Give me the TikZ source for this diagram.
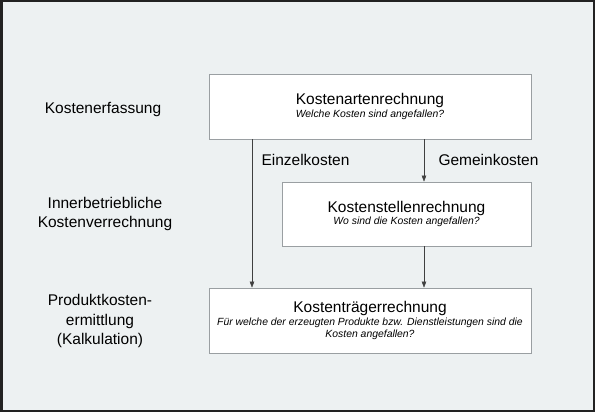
\documentclass[tikz,border=0pt]{standalone}
\usepackage{fontspec}
\setmainfont{Liberation Sans}
\usetikzlibrary{arrows.meta}
\definecolor{hintergrund}{HTML}{EDF1F2}
\definecolor{rahmen}{HTML}{222222}
\definecolor{boxrand}{HTML}{9A9FA2}
\newcommand{\titelfont}{\fontsize{15.5}{15.5}\selectfont}
\newcommand{\fragefont}{\fontsize{10.4}{12.5}\selectfont\itshape}
\tikzset{
  stufe/.style={draw=boxrand, fill=white, line width=0.8pt, align=center, inner sep=0pt},
  ebene/.style={align=center, font=\fontsize{15.5}{19.5}\selectfont},
  kostenart/.style={anchor=west, font=\fontsize{15.5}{16}\selectfont},
  pfeil/.style={draw=black!75, line width=0.5pt, -{Triangle[length=6pt,width=4.5pt]}}
}
\begin{document}
\begin{tikzpicture}[x=1pt,y=-1pt]
    % hintergrund und rahmen
    \fill[hintergrund] (0,0) rectangle (595,412);
    \draw[rahmen, line width=2.5pt] (1.25,1.25) rectangle (593.75,410.75);
    \useasboundingbox (0,0) rectangle (595,412);
    % ebenen links
    \node[ebene] (erfassung) at (103,110) {Kostenerfassung};
    \node[ebene] (verrechnung) at (105,214) {Innerbetriebliche\\Kostenverrechnung};
    \node[ebene] (ermittlung) at (100,321) {Produktkosten-\\ermittlung\\(Kalkulation)};
    % rechenstufen
    \node[stufe, minimum width=322, minimum height=65] (kar) at (370,106.5)
      {\titelfont Kostenartenrechnung\\[1pt]\fragefont Welche Kosten sind angefallen?};
    \node[stufe, minimum width=249, minimum height=64] (ksr) at (406.5,214)
      {\titelfont Kostenstellenrechnung\\[0pt]\fragefont Wo sind die Kosten angefallen?};
    \node[stufe, minimum width=322, minimum height=65] (ktr) at (370,320.5)
      {\titelfont Kostenträgerrechnung\\[1.5pt]\fragefont Für welche der erzeugten Produkte bzw. Dienstleistungen sind die\\\fragefont Kosten angefallen?};
    % pfeile
    \coordinate (links) at (252,0);
    \coordinate (rechts) at (424,0);
    \draw[pfeil] (kar.south -| links) -- (ktr.north -| links);
    \draw[pfeil] (kar.south -| rechts) -- (ksr.north -| rechts);
    \draw[pfeil] (ksr.south -| rechts) -- (ktr.north -| rechts);
    \node[kostenart] (einzel) at (258,160) {Einzelkosten};
    \node[kostenart] (gemein) at (435,160) {Gemeinkosten};
\end{tikzpicture}
\end{document}
